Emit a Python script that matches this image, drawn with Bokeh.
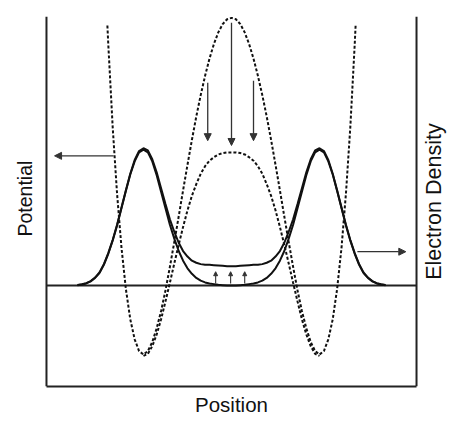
import math
from bokeh.plotting import figure
from bokeh.models import Range1d, Arrow, NormalHead, ColumnDataSource, FixedTicker, Label
from bokeh.embed import file_html
from bokeh.resources import INLINE

# ---- data (position in units of well separation, potential / density in arbitrary units) ----
pot_x = [-1.41, -1.40, -1.35, -1.30, -1.25, -1.20, -1.15, -1.10, -1.05, -1.00,
         -0.95, -0.90, -0.85, -0.80, -0.75, -0.70, -0.65, -0.60, -0.55, -0.50,
         -0.45, -0.40, -0.35, -0.30, -0.25, -0.20, -0.15, -0.10, -0.05, 0.00,
         0.05, 0.10, 0.15, 0.20, 0.25, 0.30, 0.35, 0.40, 0.45, 0.50,
         0.55, 0.60, 0.65, 0.70, 0.75, 0.80, 0.85, 0.90, 0.95, 1.00,
         1.05, 1.10, 1.15, 1.20, 1.25, 1.30, 1.35, 1.40, 1.41]
pot_bare = [3.77, 3.50, 2.30, 1.33, 0.55, -0.05, -0.49, -0.78, -0.95, -1.00,
            -0.95, -0.82, -0.62, -0.37, -0.07, 0.27, 0.63, 1.00, 1.38, 1.75,
            2.11, 2.45, 2.76, 3.04, 3.29, 3.50, 3.67, 3.79, 3.86, 3.88,
            3.86, 3.79, 3.67, 3.50, 3.29, 3.04, 2.76, 2.45, 2.11, 1.75,
            1.38, 1.00, 0.63, 0.27, -0.07, -0.37, -0.62, -0.82, -0.95, -1.00,
            -0.95, -0.78, -0.49, -0.05, 0.55, 1.33, 2.30, 3.50, 3.77]

scr_x = [-1.00, -0.95, -0.90, -0.85, -0.80, -0.75, -0.70, -0.65, -0.60, -0.55,
         -0.50, -0.45, -0.40, -0.35, -0.30, -0.25, -0.20, -0.15, -0.10, -0.05,
         0.00, 0.05, 0.10, 0.15, 0.20, 0.25, 0.30, 0.35, 0.40, 0.45,
         0.50, 0.55, 0.60, 0.65, 0.70, 0.75, 0.80, 0.85, 0.90, 0.95, 1.00]
pot_screened = [-1.02, -0.99, -0.88, -0.71, -0.49, -0.23, 0.04, 0.32, 0.59, 0.85,
                1.09, 1.30, 1.47, 1.62, 1.73, 1.81, 1.86, 1.90, 1.92, 1.93,
                1.93, 1.93, 1.92, 1.90, 1.86, 1.81, 1.73, 1.62, 1.47, 1.30,
                1.09, 0.85, 0.59, 0.32, 0.04, -0.23, -0.49, -0.71, -0.88, -0.99, -1.02]

dens_x = [-1.75, -1.70, -1.65, -1.60, -1.55, -1.50, -1.45, -1.40, -1.35, -1.30,
          -1.25, -1.20, -1.15, -1.10, -1.05, -1.00, -0.95, -0.90, -0.85, -0.80,
          -0.75, -0.70, -0.65, -0.60, -0.55, -0.50, -0.45, -0.40, -0.35, -0.30,
          -0.25, -0.20, -0.15, -0.10, -0.05, 0.00, 0.05, 0.10, 0.15, 0.20,
          0.25, 0.30, 0.35, 0.40, 0.45, 0.50, 0.55, 0.60, 0.65, 0.70,
          0.75, 0.80, 0.85, 0.90, 0.95, 1.00, 1.05, 1.10, 1.15, 1.20,
          1.25, 1.30, 1.35, 1.40, 1.45, 1.50, 1.55, 1.60, 1.65, 1.70, 1.75]
dens_separated = [0.005, 0.015, 0.03, 0.06, 0.11, 0.18, 0.30, 0.46, 0.65, 0.87,
                  1.12, 1.37, 1.61, 1.80, 1.93, 1.97, 1.93, 1.80, 1.60, 1.36,
                  1.12, 0.88, 0.68, 0.50, 0.36, 0.25, 0.17, 0.11, 0.07, 0.045,
                  0.03, 0.02, 0.01, 0.005, 0.00, 0.00, 0.00, 0.005, 0.01, 0.02,
                  0.03, 0.045, 0.07, 0.11, 0.17, 0.25, 0.36, 0.50, 0.68, 0.88,
                  1.12, 1.36, 1.60, 1.80, 1.93, 1.97, 1.93, 1.80, 1.61, 1.37,
                  1.12, 0.87, 0.65, 0.46, 0.30, 0.18, 0.11, 0.06, 0.03, 0.015, 0.005]
dens_bonded = [0.008, 0.018, 0.035, 0.065, 0.115, 0.19, 0.31, 0.47, 0.66, 0.88,
               1.13, 1.38, 1.62, 1.82, 1.95, 1.99, 1.96, 1.83, 1.64, 1.41,
               1.18, 0.96, 0.78, 0.62, 0.50, 0.42, 0.36, 0.33, 0.31, 0.30,
               0.30, 0.295, 0.29, 0.285, 0.28, 0.28, 0.28, 0.285, 0.29, 0.295,
               0.30, 0.30, 0.31, 0.33, 0.36, 0.42, 0.50, 0.62, 0.78, 0.96,
               1.18, 1.41, 1.64, 1.83, 1.96, 1.99, 1.95, 1.82, 1.62, 1.38,
               1.13, 0.88, 0.66, 0.47, 0.31, 0.19, 0.115, 0.065, 0.035, 0.018, 0.008]

# arrows: axis pointers and potential-lowering arrows (big), density-rise arrows (small)
big_x0 = [-1.34, 1.43, -0.27, 0.00, 0.25]
big_y0 = [1.88, 0.49, 2.94, 3.81, 2.97]
big_x1 = [-2.01, 1.98, -0.27, 0.00, 0.25]
big_y1 = [1.88, 0.49, 2.10, 2.03, 2.10]
small_x0 = [-0.18, -0.01, 0.15]
small_y0 = [0.03, 0.03, 0.03]
small_x1 = [-0.18, -0.01, 0.15]
small_y1 = [0.20, 0.20, 0.20]

x_label = "Position"
y_label_left = "Potential"
y_label_right = "Electron Density"

# box of the plot (data units) and the room kept around it for the side titles
box_x = (-2.102, 2.102)
box_y = (-1.464, 3.90)
side_room = 0.386

FONT = "Liberation Sans"

p = figure(frame_width=438, frame_height=370, output_backend="svg", toolbar_location=None,
           x_range=Range1d(box_x[0] - side_room, box_x[1] + side_room),
           y_range=Range1d(box_y[0], box_y[1]),
           min_border_left=12, min_border_right=0, min_border_top=16, min_border_bottom=30)
p.grid.visible = False
p.outline_line_color = None
p.background_fill_color = "white"
p.border_fill_color = "white"
p.yaxis.visible = False

xa = p.xaxis[0]
xa.bounds = box_x
xa.ticker = FixedTicker(ticks=[])
xa.major_tick_out = 0
xa.major_tick_in = 0
xa.minor_tick_out = 0
xa.major_label_standoff = 0
xa.major_label_text_font_size = "0px"
xa.axis_line_color = "#222222"
xa.axis_line_width = 2
xa.axis_label = x_label
xa.axis_label_text_font = FONT
xa.axis_label_text_font_style = "normal"
xa.axis_label_text_color = "#111111"
xa.axis_label_text_font_size = "20.5px"
xa.axis_label_standoff = 6

# left and right axis lines and the zero line
p.segment(x0=[box_x[0], box_x[1]], y0=[box_y[0], box_y[0]],
          x1=[box_x[0], box_x[1]], y1=[box_y[1], box_y[1]],
          line_color="#222222", line_width=2)
p.segment(x0=[box_x[0]], y0=[0.0], x1=[box_x[1]], y1=[0.0],
          line_color="#222222", line_width=1.8)

# side titles, both reading bottom-to-top
p.add_layout(Label(x=-2.341, y=1.26, text=y_label_left, angle=math.pi / 2,
                   text_align="center", text_baseline="middle",
                   text_font=FONT, text_font_size="19.5px", text_color="#111111"))
p.add_layout(Label(x=2.295, y=1.217, text=y_label_right, angle=math.pi / 2,
                   text_align="center", text_baseline="middle",
                   text_font=FONT, text_font_size="21.5px", text_color="#111111"))

p.line(pot_x, pot_bare, line_color="#111111", line_width=2, line_dash="3 2")
p.line(scr_x, pot_screened, line_color="#111111", line_width=2, line_dash="3 2")
p.line(dens_x, dens_separated, line_color="#111111", line_width=2)
p.line(dens_x, dens_bonded, line_color="#111111", line_width=2)

big_src = ColumnDataSource(dict(x0=big_x0, y0=big_y0, x1=big_x1, y1=big_y1))
p.add_layout(Arrow(source=big_src, x_start="x0", y_start="y0", x_end="x1", y_end="y1",
                   line_color="#333333", line_width=1.3,
                   end=NormalHead(size=7, fill_color="#333333", line_color="#333333", line_width=1)))
small_src = ColumnDataSource(dict(x0=small_x0, y0=small_y0, x1=small_x1, y1=small_y1))
p.add_layout(Arrow(source=small_src, x_start="x0", y_start="y0", x_end="x1", y_end="y1",
                   line_color="#333333", line_width=1.1,
                   end=NormalHead(size=4, fill_color="#333333", line_color="#333333", line_width=1)))

open("out.html", "w").write(file_html(p, INLINE))
